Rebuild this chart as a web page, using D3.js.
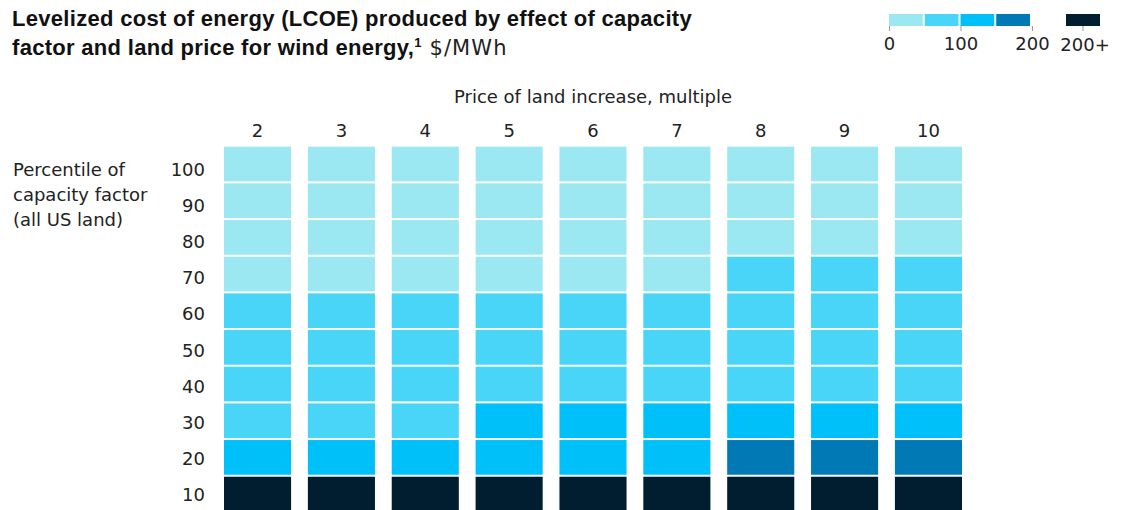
<!DOCTYPE html>
<html>
<head>
<meta charset="utf-8">
<script src="https://cdn.jsdelivr.net/npm/d3@7"></script>
<style>
  html, body { margin: 0; padding: 0; background: #fff; }
  svg { display: block; }
  text { font-family: "DejaVu Sans", sans-serif; fill: #222; }
  .title { font-family: "Liberation Sans", Arial, sans-serif; font-size: 22px; font-weight: 700; fill: #111; letter-spacing: 0.3px; }
  .title .unit { font-family: "DejaVu Sans", sans-serif; font-size: 21px; font-weight: 400; fill: #222; letter-spacing: 1.1px; }
</style>
</head>
<body>
<svg id="chart" width="1121" height="510"></svg>
<script>
// Land-price multiples (columns) and capacity-factor percentiles (rows)
const landMultiples = [2, 3, 4, 5, 6, 7, 8, 9, 10];
const percentiles = [100, 90, 80, 70, 60, 50, 40, 30, 20, 10];

// LCOE bins, $/MWh
const binLabels = ["0–50", "50–100", "100–150", "150–200", "200+"];
const binColors = ["#9ce8f2", "#48d5f8", "#00c0fa", "#0079b4", "#001e30"];

// LCOE bin index per column (land multiple), listed from percentile 100 down to 10
const lcoeBins = {
  2:  [0, 0, 0, 0, 1, 1, 1, 1, 2, 4],
  3:  [0, 0, 0, 0, 1, 1, 1, 1, 2, 4],
  4:  [0, 0, 0, 0, 1, 1, 1, 1, 2, 4],
  5:  [0, 0, 0, 0, 1, 1, 1, 2, 2, 4],
  6:  [0, 0, 0, 0, 1, 1, 1, 2, 2, 4],
  7:  [0, 0, 0, 0, 1, 1, 1, 2, 2, 4],
  8:  [0, 0, 0, 1, 1, 1, 1, 2, 3, 4],
  9:  [0, 0, 0, 1, 1, 1, 1, 2, 3, 4],
  10: [0, 0, 0, 1, 1, 1, 1, 2, 3, 4]
};

// Legend tick labels
const legendTicks = [0, 100, 200];
const legendOverflowLabel = "200+";

const labelSize = 18;
const svg = d3.select("#chart");

// ---- Title ----
svg.append("text").attr("class", "title").attr("x", 12).attr("y", 26)
  .text("Levelized cost of energy (LCOE) produced by effect of capacity");
const t2 = svg.append("text").attr("class", "title").attr("x", 12).attr("y", 55);
t2.append("tspan").text("factor and land price for wind energy,");
t2.append("tspan").attr("font-size", 13).attr("dy", -8).text("1");
t2.append("tspan").attr("class", "unit").attr("dy", 8).text(" $/MWh");

// ---- Legend ----
const legendScale = d3.scaleLinear().domain([0, 200]).range([889, 1032]);
const legendSteps = d3.range(0, 200, 50);
const legend = svg.append("g");
legend.selectAll("rect.step")
  .data(legendSteps)
  .join("rect")
  .attr("class", "step")
  .attr("x", d => legendScale(d))
  .attr("y", 14)
  .attr("width", d => legendScale(d + 50) - legendScale(d) - 2)
  .attr("height", 12)
  .attr("fill", (d, i) => binColors[i]);
legend.append("rect")
  .attr("x", 1066).attr("y", 14).attr("width", 34).attr("height", 12)
  .attr("fill", binColors[4]);

const legendAxis = d3.axisBottom(legendScale)
  .tickValues(legendTicks)
  .tickSize(5)
  .tickPadding(6)
  .tickFormat(d3.format("d"));
const la = legend.append("g").attr("transform", "translate(0,26)").call(legendAxis);
la.select(".domain").remove();
la.selectAll(".tick line").attr("stroke", "#999");
la.selectAll(".tick text")
  .attr("font-size", labelSize).attr("fill", "#222")
  .attr("font-family", "DejaVu Sans, sans-serif");
const over = legend.append("g").attr("transform", "translate(1083,26)");
over.append("line").attr("y2", 5).attr("stroke", "#999");
over.append("text").attr("x", 2).attr("y", 25).attr("text-anchor", "middle")
  .attr("font-size", labelSize).text(legendOverflowLabel);

// ---- Grid ----
const x = d3.scaleBand()
  .domain(landMultiples)
  .range([224, 962])
  .paddingInner(0.2)
  .paddingOuter(0);

const y = d3.scaleBand()
  .domain(percentiles)
  .range([146.7, 511.4])
  .paddingInner(2 / 36.67)
  .paddingOuter(0);

const cells = [];
landMultiples.forEach(m => {
  percentiles.forEach((p, i) => cells.push({ m, p, bin: lcoeBins[m][i] }));
});

svg.append("g")
  .selectAll("rect")
  .data(cells)
  .join("rect")
  .attr("x", d => x(d.m))
  .attr("y", d => y(d.p))
  .attr("width", x.bandwidth())
  .attr("height", y.bandwidth())
  .attr("fill", d => binColors[d.bin]);

// Column header and labels
svg.append("text")
  .attr("x", (x(2) + x(10) + x.bandwidth()) / 2)
  .attr("y", 103)
  .attr("text-anchor", "middle")
  .attr("font-size", labelSize)
  .text("Price of land increase, multiple");

svg.append("g")
  .selectAll("text")
  .data(landMultiples)
  .join("text")
  .attr("x", d => x(d) + x.bandwidth() / 2)
  .attr("y", 137)
  .attr("text-anchor", "middle")
  .attr("font-size", labelSize)
  .text(d => d);

// Row labels
const rowLabelY = d3.scalePoint().domain(percentiles).range([176, 501]);
svg.append("g")
  .selectAll("text")
  .data(percentiles)
  .join("text")
  .attr("x", 205)
  .attr("y", d => rowLabelY(d))
  .attr("text-anchor", "end")
  .attr("font-size", labelSize)
  .text(d => d);

// Row axis title
const rowTitle = svg.append("text").attr("font-size", labelSize);
["Percentile of", "capacity factor", "(all US land)"].forEach((line, i) => {
  rowTitle.append("tspan").attr("x", 13).attr("y", 176 + i * 25).text(line);
});
</script>
</body>
</html>
